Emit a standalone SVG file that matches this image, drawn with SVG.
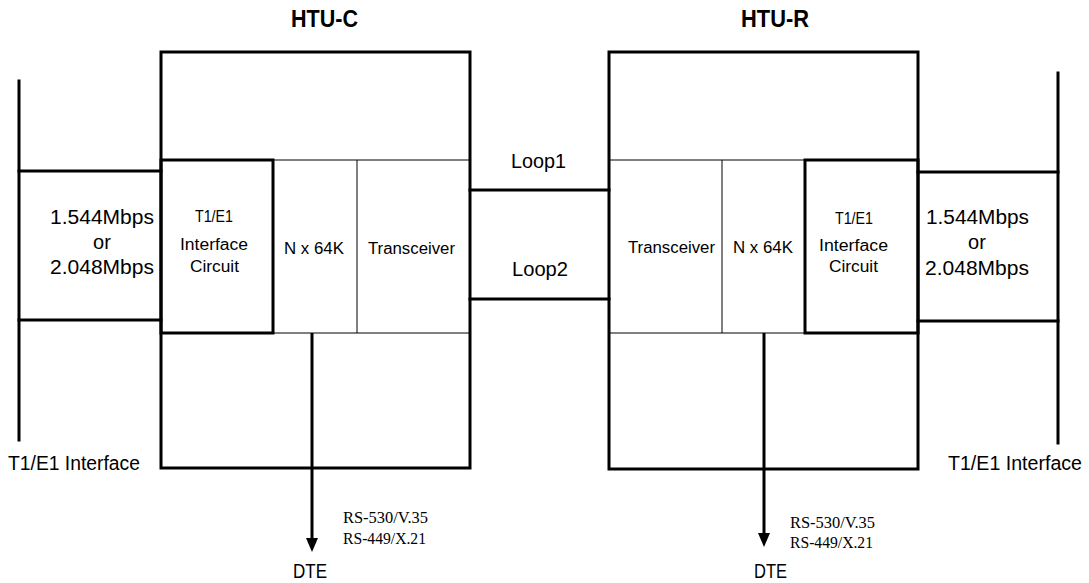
<svg xmlns="http://www.w3.org/2000/svg" width="1089" height="583" viewBox="0 0 1089 583">
<style>
.thick{fill:none;stroke:#000;stroke-width:3;stroke-linecap:square}
.thin{fill:none;stroke:#000;stroke-width:1}
.sans{font-family:"Liberation Sans",Arial,sans-serif;fill:#000}
.big{font-size:20px}
.mid{font-size:16px}
.title{font-size:24px;font-weight:bold}
.serif{font-family:"Liberation Serif","Times New Roman",serif;font-size:16px;fill:#000}
</style>
<defs>
<marker id="ah" markerUnits="userSpaceOnUse" markerWidth="14" markerHeight="12" refX="0" refY="6" orient="auto">
<path d="M0,0 L14,6 L0,12 z" fill="#000"/>
</marker>
</defs>
<rect width="1089" height="583" fill="#fff"/>

<g id="left-interface">
<line class="thick" x1="19" y1="81" x2="19" y2="440"/>
<line class="thick" x1="19" y1="171" x2="161" y2="171"/>
<line class="thick" x1="19" y1="320" x2="161" y2="320"/>
<text class="sans big" x="50" y="224" textLength="104" lengthAdjust="spacingAndGlyphs">1.544Mbps</text>
<text class="sans big" x="102" y="249" text-anchor="middle">or</text>
<text class="sans big" x="50" y="274" textLength="104" lengthAdjust="spacingAndGlyphs">2.048Mbps</text>
<text class="sans big" x="8" y="470" textLength="132" lengthAdjust="spacingAndGlyphs">T1/E1 Interface</text>
</g>

<g id="htu-c">
<text class="sans title" x="291" y="27" textLength="67" lengthAdjust="spacingAndGlyphs">HTU-C</text>
<rect class="thick" x="161" y="52" width="309" height="416"/>
<line class="thin" x1="273" y1="160" x2="470" y2="160"/>
<line class="thin" x1="273" y1="333" x2="470" y2="333"/>
<line class="thin" x1="357" y1="160" x2="357" y2="333"/>
<rect class="thick" x="161" y="160" width="112" height="173"/>
<text class="sans mid" x="214" y="222" text-anchor="middle" textLength="38" lengthAdjust="spacingAndGlyphs">T1/E1</text>
<text class="sans mid" x="180" y="250" textLength="68" lengthAdjust="spacingAndGlyphs">Interface</text>
<text class="sans mid" x="190" y="272" textLength="49" lengthAdjust="spacingAndGlyphs">Circuit</text>
<text class="sans mid" x="284" y="254" textLength="60" lengthAdjust="spacingAndGlyphs">N x 64K</text>
<text class="sans mid" x="368" y="254" textLength="87" lengthAdjust="spacingAndGlyphs">Transceiver</text>
</g>

<g id="htu-r">
<text class="sans title" x="741" y="27" textLength="68" lengthAdjust="spacingAndGlyphs">HTU-R</text>
<rect class="thick" x="609" y="52" width="309" height="417"/>
<line class="thin" x1="609" y1="160" x2="805" y2="160"/>
<line class="thin" x1="609" y1="333" x2="805" y2="333"/>
<line class="thin" x1="722" y1="160" x2="722" y2="333"/>
<rect class="thick" x="805" y="160" width="113" height="173"/>
<text class="sans mid" x="628" y="253" textLength="87" lengthAdjust="spacingAndGlyphs">Transceiver</text>
<text class="sans mid" x="733" y="253" textLength="60" lengthAdjust="spacingAndGlyphs">N x 64K</text>
<text class="sans mid" x="835" y="224" textLength="38" lengthAdjust="spacingAndGlyphs">T1/E1</text>
<text class="sans mid" x="819" y="251" textLength="69" lengthAdjust="spacingAndGlyphs">Interface</text>
<text class="sans mid" x="829" y="272" textLength="49" lengthAdjust="spacingAndGlyphs">Circuit</text>
</g>

<g id="right-interface">
<line class="thick" x1="1058" y1="73" x2="1058" y2="443"/>
<line class="thick" x1="918" y1="172" x2="1058" y2="172"/>
<line class="thick" x1="918" y1="321" x2="1058" y2="321"/>
<text class="sans big" x="926" y="224" textLength="103" lengthAdjust="spacingAndGlyphs">1.544Mbps</text>
<text class="sans big" x="977" y="249" text-anchor="middle">or</text>
<text class="sans big" x="925" y="275" textLength="104" lengthAdjust="spacingAndGlyphs">2.048Mbps</text>
<text class="sans big" x="948" y="470" textLength="134" lengthAdjust="spacingAndGlyphs">T1/E1 Interface</text>
</g>

<g id="connectors">
<line class="thick" x1="470" y1="190" x2="609" y2="190"/>
<line class="thick" x1="470" y1="299" x2="609" y2="299"/>
<text class="sans big" x="511" y="168" textLength="55" lengthAdjust="spacingAndGlyphs">Loop1</text>
<text class="sans big" x="512" y="276" textLength="56" lengthAdjust="spacingAndGlyphs">Loop2</text>
<line x1="312" y1="333" x2="312" y2="538" stroke="#000" stroke-width="3" marker-end="url(#ah)"/>
<line x1="764" y1="333" x2="764" y2="533" stroke="#000" stroke-width="3" marker-end="url(#ah)"/>
<text class="serif" x="343" y="523" textLength="85" lengthAdjust="spacingAndGlyphs">RS-530/V.35</text>
<text class="serif" x="343" y="544" textLength="83" lengthAdjust="spacingAndGlyphs">RS-449/X.21</text>
<text class="serif" x="790" y="528" textLength="85" lengthAdjust="spacingAndGlyphs">RS-530/V.35</text>
<text class="serif" x="790" y="548" textLength="83" lengthAdjust="spacingAndGlyphs">RS-449/X.21</text>
<text class="sans big" x="293" y="578" textLength="34" lengthAdjust="spacingAndGlyphs">DTE</text>
<text class="sans big" x="754" y="578" textLength="33" lengthAdjust="spacingAndGlyphs">DTE</text>
</g>
</svg>
